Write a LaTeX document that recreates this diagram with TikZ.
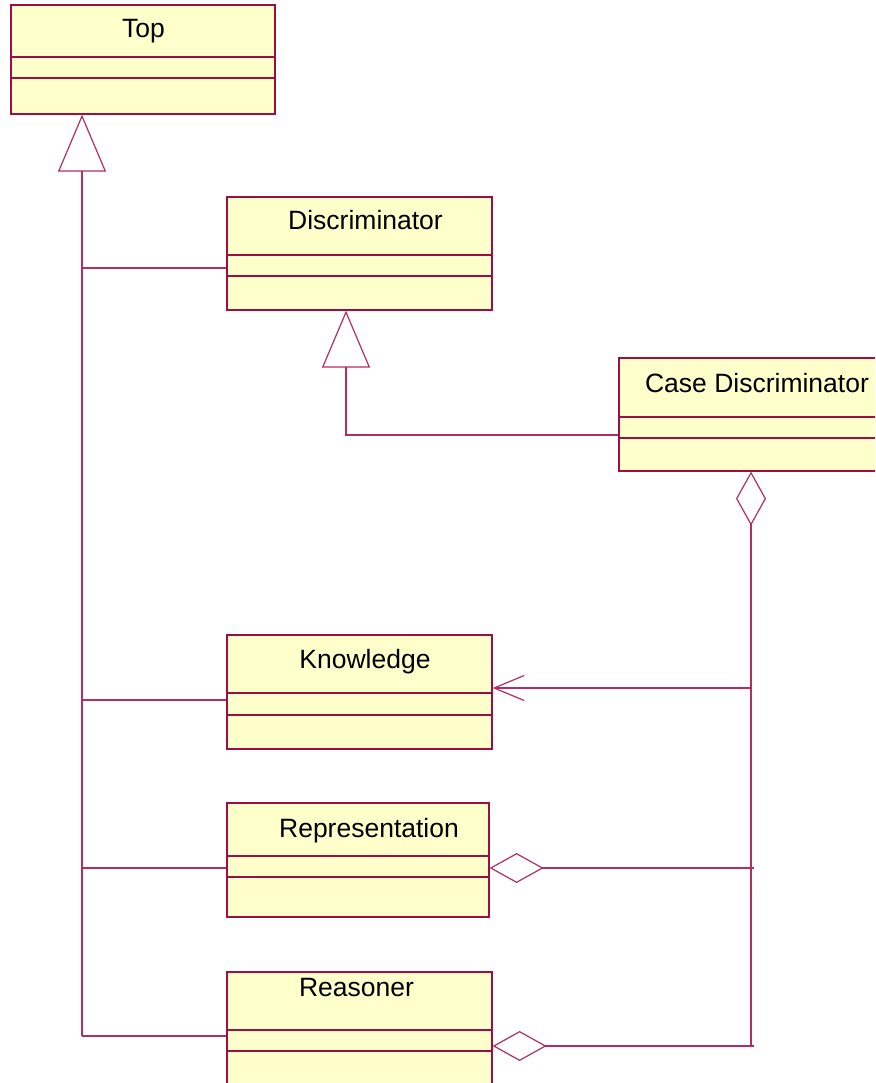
\documentclass[tikz,border=0pt]{standalone}
\usepackage{fontspec}
\setmainfont{Liberation Sans}
\usetikzlibrary{arrows.meta}

\definecolor{umlborder}{RGB}{158,14,66}
\definecolor{umlline}{RGB}{180,45,95}
\definecolor{umlfill}{RGB}{255,255,204}

\tikzset{
  classbox/.style={draw=umlborder, line width=1.6pt, fill=umlfill, rectangle,
    anchor=north west, inner sep=0pt, minimum height=113pt},
  compline/.style={draw=umlborder, line width=1.1pt},
  classname/.style={anchor=base, inner sep=0pt, font=\fontsize{26.5}{30}\selectfont},
  link/.style={draw=umlline, line width=1.2pt},
  inherit/.style={link, -{Triangle[open, length=57pt, width=48pt, line width=1.2pt]}},
  aggregate/.style={link, {Diamond[open, length=54pt, width=30pt, line width=1.2pt]}-},
  navigate/.style={link, -{Straight Barb[length=30pt, width=25pt, line width=1.2pt]}},
}

\begin{document}
\begin{tikzpicture}[x=1pt, y=-1pt]
\path[use as bounding box] (0,0) rectangle (875,1083);
\clip (0,0) rectangle (875,1083);

% class boxes
\node[classbox, minimum width=264pt, minimum height=109pt] (top) at (10,4) {};
\node[classbox, minimum width=265pt] (disc) at (226,196) {};
\node[classbox, minimum width=300pt] (case) at (618,357) {};
\node[classbox, minimum width=265pt, minimum height=114pt] (know) at (226,634) {};
\node[classbox, minimum width=262pt, minimum height=114pt] (repr) at (226,802) {};
\node[classbox, minimum width=265pt, minimum height=140pt] (reas) at (226,971) {};

% compartment separators
\foreach \b/\a/\c in {top/53/74, disc/59/80, case/60/81, know/59/81, repr/54/75, reas/59/80}{
  \draw[compline] ([yshift=-\a pt]\b.north west) -- ([yshift=-\a pt]\b.north east);
  \draw[compline] ([yshift=-\c pt]\b.north west) -- ([yshift=-\c pt]\b.north east);
}

% class names
\node[classname] (top-name) at (143.5,37.5) {Top};
\node[classname] (disc-name) at (365.5,229.5) {Discriminator};
\node[classname] (case-name) at (757,392.5) {Case Discriminator};
\node[classname] (know-name) at (365,668.5) {Knowledge};
\node[classname] (repr-name) at (369,837.5) {Representation};
\node[classname] (reas-name) at (356.5,996) {Reasoner};

% generalisation to Top
\coordinate (spine-disc) at (82,268);
\coordinate (spine-know) at (82,700);
\coordinate (spine-repr) at (82,868);
\coordinate (spine-reas) at (82,1036);
\draw[inherit] (spine-reas) -- (top.south -| spine-reas);
\draw[link] (spine-disc) -- (disc.west |- spine-disc);
\draw[link] (spine-know) -- (know.west |- spine-know);
\draw[link] (spine-repr) -- (repr.west |- spine-repr);
\draw[link] (spine-reas) -- (reas.west |- spine-reas);

% generalisation of Case Discriminator
\coordinate (gen-bend) at (346,435);
\draw[inherit] (case.west |- gen-bend) -- (gen-bend) -- (disc.south -| gen-bend);

% aggregation from Case Discriminator
\coordinate (agg-bottom) at (751,1046);
\coordinate (agg-know) at (751,688);
\coordinate (agg-repr) at (754,868);
\coordinate (agg-reas) at (754,1046);
\draw[aggregate] (case.south -| agg-bottom) -- (agg-bottom);
\draw[navigate] (agg-know) -- (know.east |- agg-know);
\draw[aggregate] (repr.east |- agg-repr) -- (agg-repr);
\draw[aggregate] (reas.east |- agg-reas) -- (agg-reas);
\end{tikzpicture}
\end{document}
